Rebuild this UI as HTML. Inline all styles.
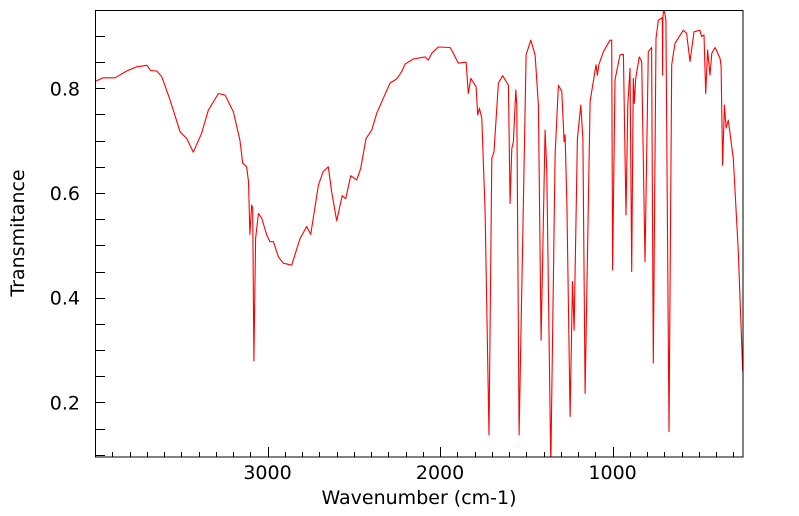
<!DOCTYPE html>
<html><head><meta charset="utf-8"><style>
body{margin:0;background:#fff;}
svg{display:block;font-family:"DejaVu Sans","Liberation Sans",sans-serif;}
</style></head><body>
<svg id="chart" width="799" height="516">
<defs><clipPath id="clip"><rect x="95" y="10" width="648" height="447"/></clipPath></defs>
<g id="axes"></g>
<g id="series" clip-path="url(#clip)"></g>
<rect x="95.5" y="10.5" width="647.5" height="446.5" fill="none" stroke="#000" stroke-width="1"/>
<text x="419" y="504" font-size="19" text-anchor="middle">Wavenumber (cm-1)</text>
<text x="24" y="233" font-size="19" text-anchor="middle" transform="rotate(-90 24 233)">Transmitance</text>
</svg>
<script>
const wavenumbers=[4000,3952,3884,3816,3758,3700,3677,3642,3613,3565,3507,3468,3430,3382,3343,3285,3246,3198,3160,3144,3121,3110,3102,3092,3086,3079,3069,3053,3034,3005,2986,2966,2937,2908,2860,2812,2773,2750,2705,2677,2648,2628,2599,2567,2547,2518,2483,2460,2429,2396,2367,2329,2290,2251,2222,2203,2155,2087,2068,2048,2010,1942,1923,1894,1849,1836,1822,1791,1782,1772,1758,1739,1716,1700,1687,1662,1637,1613,1604,1594,1584,1575,1561,1555,1542,1501,1474,1449,1430,1414,1391,1381,1358,1333,1314,1294,1281,1275,1265,1246,1232,1223,1204,1184,1172,1159,1130,1096,1088,1080,1053,1015,1005,1000,986,957,937,922,912,899,889,880,874,866,845,831,812,793,774,764,748,735,712,710,708,703,691,673,657,638,590,571,551,528,494,484,470,460,449,435,425,406,377,371,362,352,342,329,300,271,246];
const transmittance=[0.813,0.820,0.820,0.833,0.841,0.844,0.834,0.833,0.822,0.778,0.717,0.704,0.678,0.714,0.758,0.790,0.787,0.755,0.701,0.657,0.650,0.622,0.521,0.577,0.571,0.279,0.513,0.561,0.552,0.520,0.507,0.507,0.478,0.466,0.462,0.513,0.536,0.521,0.615,0.641,0.650,0.602,0.547,0.595,0.589,0.633,0.625,0.647,0.704,0.720,0.752,0.781,0.810,0.818,0.832,0.846,0.856,0.860,0.854,0.867,0.879,0.878,0.867,0.848,0.850,0.790,0.819,0.803,0.749,0.762,0.743,0.564,0.138,0.666,0.679,0.810,0.824,0.811,0.806,0.580,0.685,0.698,0.797,0.768,0.138,0.864,0.892,0.864,0.768,0.319,0.720,0.641,0.08,0.673,0.806,0.794,0.698,0.711,0.577,0.173,0.431,0.338,0.704,0.768,0.704,0.217,0.775,0.845,0.825,0.845,0.870,0.892,0.892,0.453,0.816,0.864,0.865,0.558,0.768,0.838,0.450,0.819,0.771,0.819,0.860,0.851,0.469,0.870,0.878,0.275,0.895,0.930,0.935,0.825,0.935,0.955,0.930,0.144,0.845,0.886,0.911,0.905,0.851,0.908,0.911,0.899,0.902,0.790,0.873,0.825,0.867,0.878,0.857,0.841,0.653,0.768,0.724,0.739,0.666,0.488,0.259];
const yTicks=[0.2,0.4,0.6,0.8];
const xTicks=[1000,2000,3000];
const X0=95,X1=743,Y0=10,Y1=457,WMAX=4000,WMIN=244,TMIN=0.0957,TMAX=0.9496;
const xs=w=>X0+(WMAX-w)/(WMAX-WMIN)*(X1-X0);
const ys=t=>Y1-(t-TMIN)/(TMAX-TMIN)*(Y1-Y0);
const NS="http://www.w3.org/2000/svg";
const axes=document.getElementById('axes');
function mk(tag,attrs,parent){const e=document.createElementNS(NS,tag);for(const k in attrs)e.setAttribute(k,attrs[k]);parent.appendChild(e);return e;}
for(let v=0.1;v<0.95;v+=0.05){const y=Math.round(ys(v))+0.5;
 const t=mk('line',{x1:X0,x2:X0+10,y1:y,y2:y,stroke:'#000'},axes);
 
 }
yTicks.forEach(v=>{const t=mk('text',{x:80,y:ys(v)+7,'font-size':19,'text-anchor':'end'},axes);t.textContent=v.toFixed(1);
 
 });
for(let w=300;w<=4000;w+=100){const x=Math.round(xs(w))+0.5;const major=w%1000===0;
 const t=mk('line',{x1:x,x2:x,y1:Y1,y2:Y1-(major?10:5),stroke:'#000'},axes);
 
 }
xTicks.forEach(w=>{const t=mk('text',{x:xs(w),y:479,'font-size':19,'text-anchor':'middle'},axes);t.textContent=w;
 
 });
const pts=wavenumbers.map((w,i)=>xs(w).toFixed(1)+','+ys(transmittance[i]).toFixed(1)).join(' ');
const line=mk('polyline',{points:pts,fill:'none',stroke:'#ff0000','stroke-width':1.1,'stroke-linejoin':'round'},document.getElementById('series'));


</script>
</body></html>
